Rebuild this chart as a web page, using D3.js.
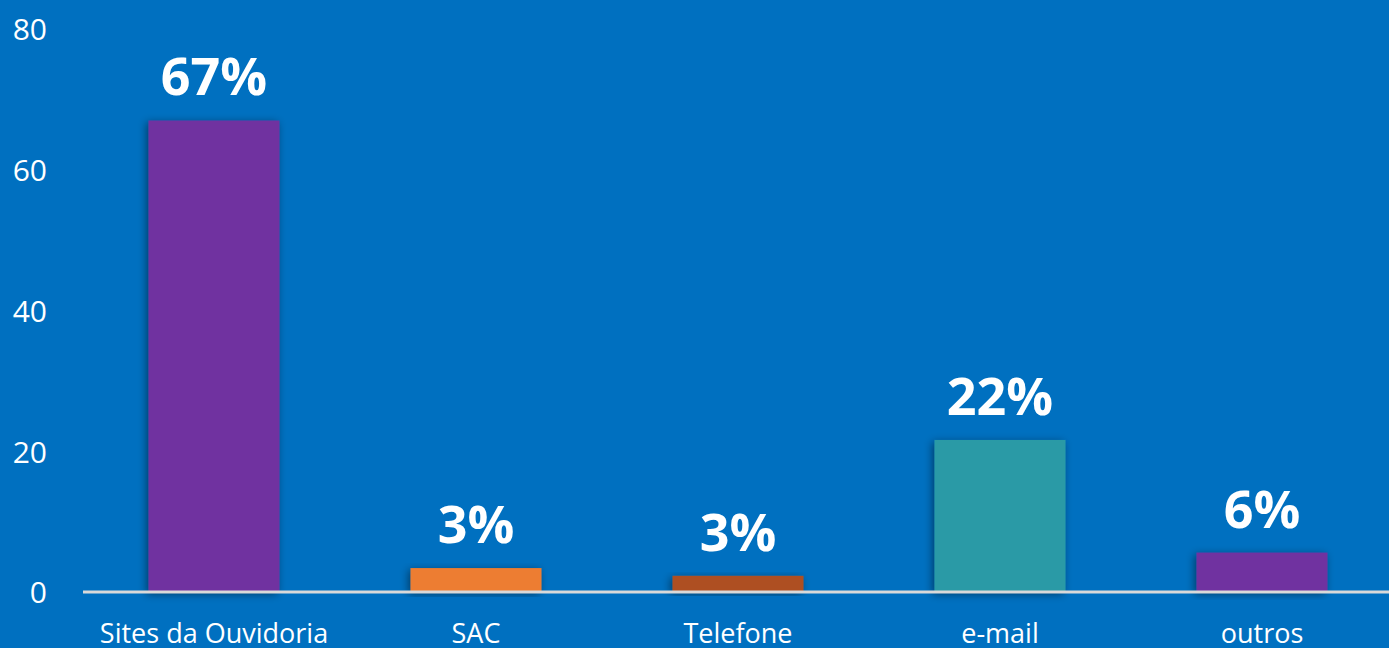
<!DOCTYPE html>
<html>
<head>
<meta charset="utf-8">
<script src="https://cdn.jsdelivr.net/npm/d3@7/dist/d3.min.js"></script>
<style>
  html, body { margin: 0; padding: 0; background: #0070C0; }
  svg { display: block; }
</style>
</head>
<body>
<svg id="chart" width="1389" height="648"></svg>
<script>
const categories = ["Sites da Ouvidoria", "SAC", "Telefone", "e-mail", "outros"];
const values = [67.0, 3.4, 2.3, 21.6, 5.6];
const labels = ["67%", "3%", "3%", "22%", "6%"];
const colors = ["#7030A0", "#ED7D31", "#AE4F21", "#2B9AA6", "#7030A0"];
const yTicks = [0, 20, 40, 60, 80];

const W = 1389, H = 648;
const svg = d3.select("#chart");
const font = "'Open Sans', 'Noto Sans', sans-serif";

const x = d3.scaleBand().domain(categories).range([83, 1393]).paddingInner(0.5).paddingOuter(0.25);
const y = d3.scaleLinear().domain([0, 80]).range([592, 29]);

const defs = svg.append("defs");
const f = defs.append("filter").attr("id", "shadow").attr("x", "-20%").attr("y", "-20%").attr("width", "140%").attr("height", "140%");
f.append("feDropShadow").attr("dx", -2).attr("dy", 2).attr("stdDeviation", 4)
  .attr("flood-color", "#000").attr("flood-opacity", 0.45);

// y axis labels
const yAxis = d3.axisLeft(y).tickValues(yTicks).tickSize(0).tickPadding(0);
const gy = svg.append("g").attr("transform", "translate(47,0)").call(yAxis);
gy.select(".domain").remove();
gy.selectAll("text").attr("fill", "#fff").style("font-family", font).style("font-size", "30px")
  .attr("dy", "0.36em");

// bars
svg.append("g").selectAll("rect").data(categories).join("rect")
  .attr("x", d => x(d))
  .attr("width", x.bandwidth())
  .attr("y", (d, i) => y(values[i]))
  .attr("height", (d, i) => y(0) - y(values[i]))
  .attr("fill", (d, i) => colors[i])
  .attr("filter", "url(#shadow)");

// baseline
svg.append("line").attr("x1", 83).attr("x2", W).attr("y1", y(0)).attr("y2", y(0))
  .attr("stroke", "#D9D9D9").attr("stroke-width", 3);

// value labels
svg.append("g").selectAll("text").data(categories).join("text")
  .attr("x", d => x(d) + x.bandwidth() / 2)
  .attr("y", (d, i) => y(values[i]) - 25)
  .attr("text-anchor", "middle")
  .attr("fill", "#fff")
  .style("font-family", font).style("font-weight", "700").style("font-size", "52px")
  .text((d, i) => labels[i]);

// x axis labels
const xAxis = d3.axisBottom(x).tickSize(0).tickPadding(0);
const gx = svg.append("g").attr("transform", "translate(0,643)").call(xAxis);
gx.select(".domain").remove();
gx.selectAll("text").attr("fill", "#fff").attr("dy", 0).attr("y", 0)
  .style("font-family", font).style("font-size", "27px");
</script>
</body>
</html>
